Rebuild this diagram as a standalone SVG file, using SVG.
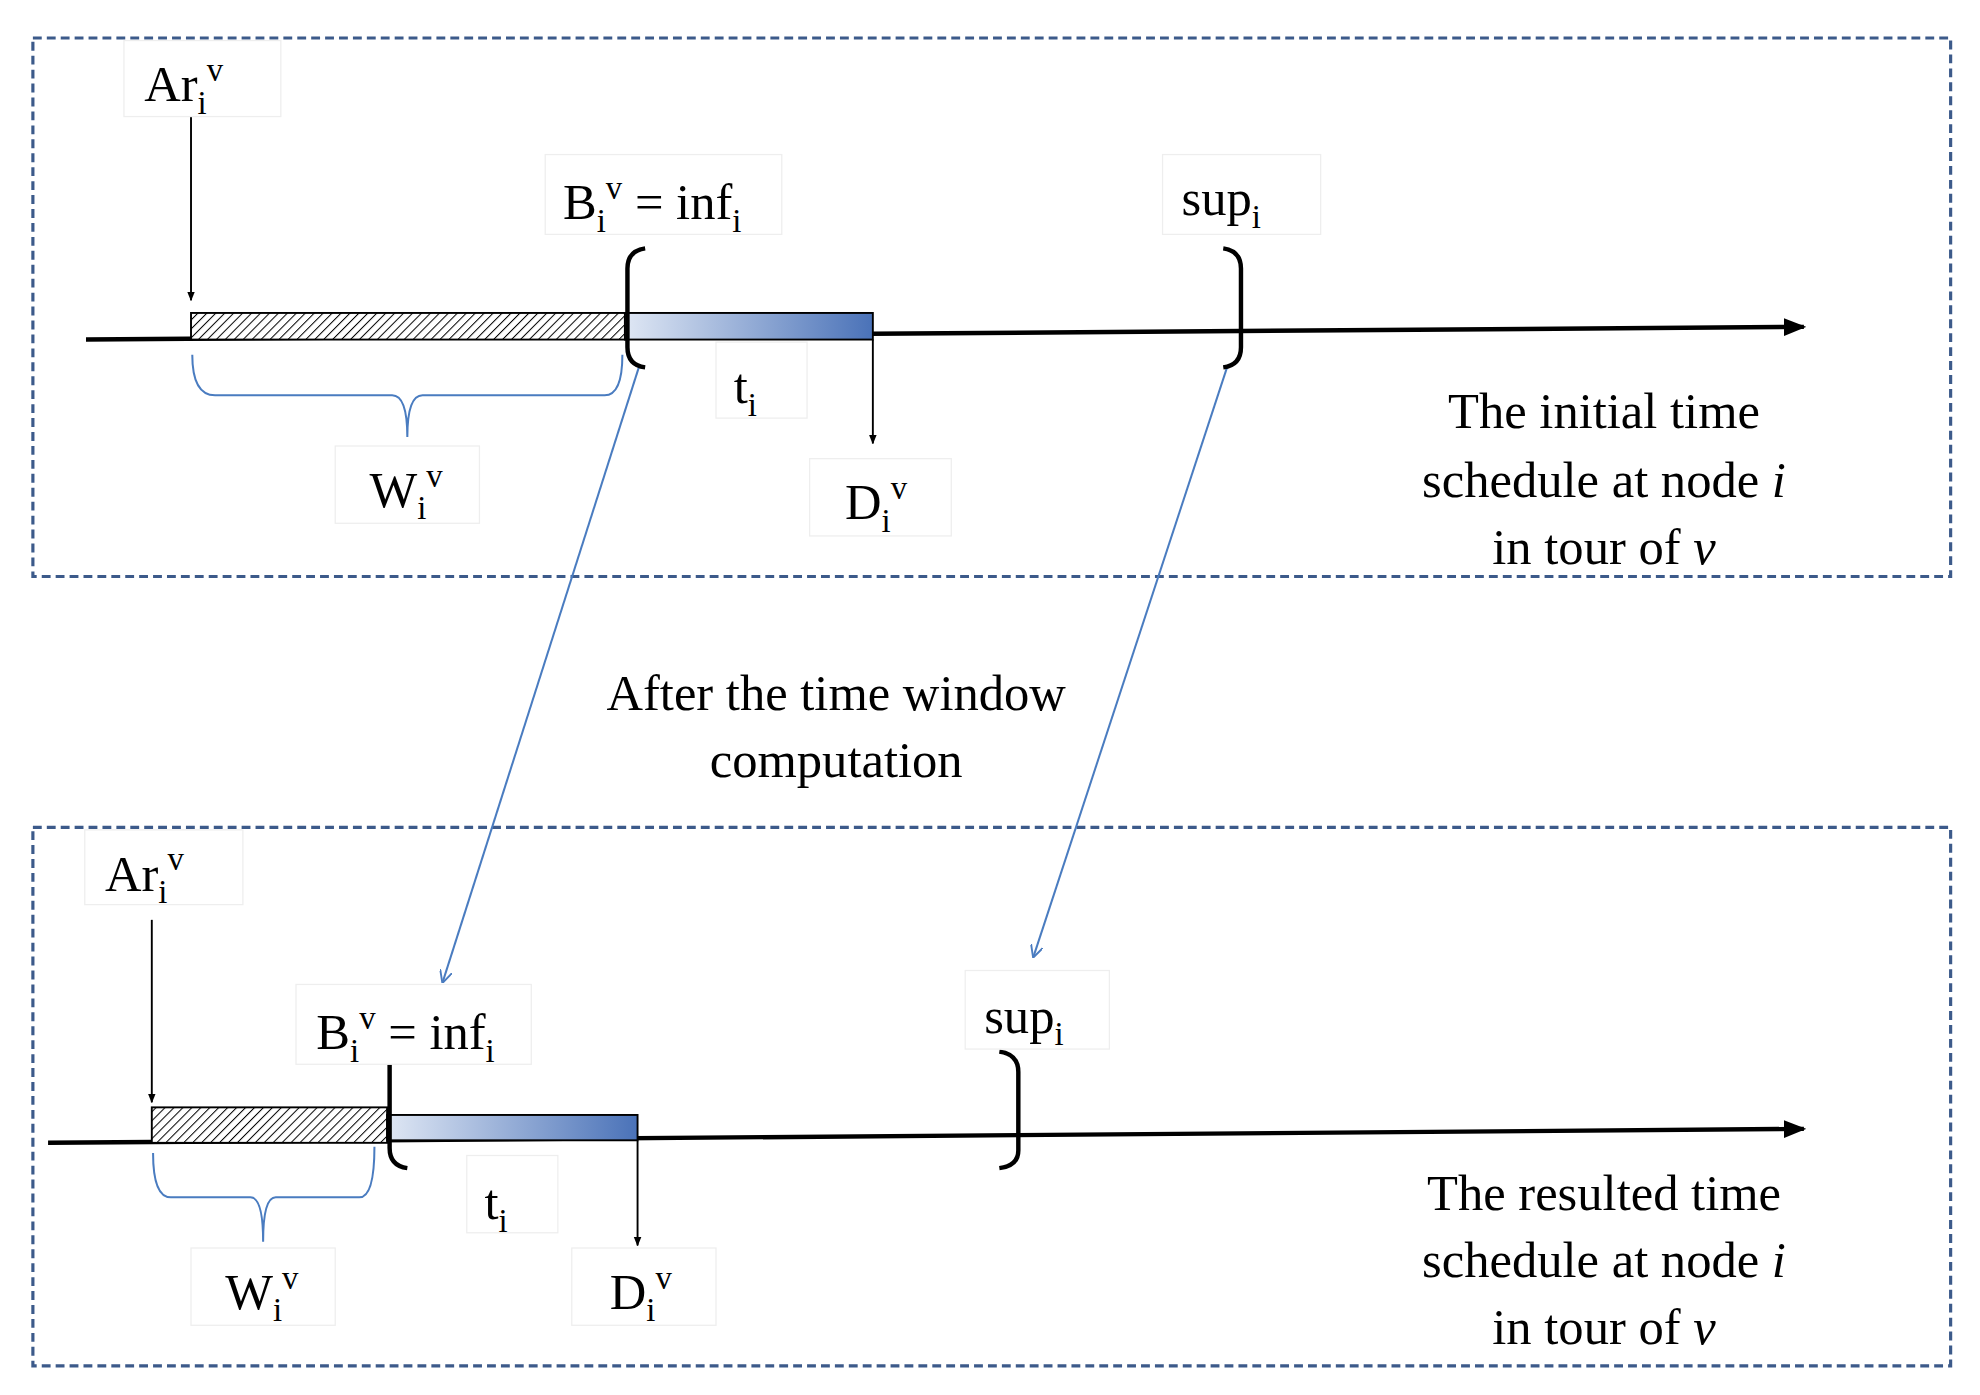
<svg xmlns="http://www.w3.org/2000/svg" width="1980" height="1395" viewBox="0 0 1980 1395">
<defs>
<pattern id="hatch" width="5" height="5" patternUnits="userSpaceOnUse" patternTransform="rotate(45)"><rect width="5" height="5" fill="#fff"/><line x1="0" y1="0" x2="0" y2="5" stroke="#000" stroke-width="1.6"/></pattern>
<linearGradient id="bg" x1="0" y1="0" x2="1" y2="0"><stop offset="0" stop-color="#dfe7f4"/><stop offset="1" stop-color="#4a72b8"/></linearGradient>
<marker id="ah" viewBox="0 0 10 10" refX="9" refY="5" markerWidth="5" markerHeight="5" orient="auto"><path d="M0,1 L10,5 L0,9 z" fill="#000"/></marker>
<marker id="bh" viewBox="0 0 10 10" refX="9" refY="5" markerWidth="10" markerHeight="10" orient="auto" markerUnits="userSpaceOnUse"><path d="M0,0 L10,5 L0,10" fill="none" stroke="#4a7cc0" stroke-width="1.5"/></marker>
<style>
.box{fill:none;stroke:#3c5a8a;stroke-width:2.5;stroke-dasharray:7,4}
.lb{fill:#fff;stroke:#eee;stroke-width:1}
text{font-family:"Liberation Serif","Times New Roman",serif;fill:#000}
.t{font-size:40px}
.s{font-size:26px}
.ax{stroke:#000;stroke-width:3.5;fill:none}
.br{stroke:#000;stroke-width:3.5;fill:none}
.bl{stroke:#4a7cc0;stroke-width:1.6;fill:none}
.th{stroke:#000;stroke-width:1.5;fill:none}
</style>
</defs>
<g transform="scale(1.265,1.267)">
<g id="frames">
<rect class="box" x="26" y="30" width="1516" height="425"/>
<rect class="box" x="26" y="653" width="1516" height="425"/>
</g>
<g id="connectors">
<line class="ax" x1="68" y1="268" x2="1426" y2="258" marker-end="url(#ah)"/>
<line class="ax" x1="38" y1="902" x2="1426" y2="891" marker-end="url(#ah)"/>
<line class="th" x1="151" y1="92" x2="151" y2="237" marker-end="url(#ah)"/>
<line class="th" x1="690" y1="268" x2="690" y2="350" marker-end="url(#ah)"/>
<line class="th" x1="120" y1="726" x2="120" y2="870" marker-end="url(#ah)"/>
<line class="th" x1="504" y1="900" x2="504" y2="983" marker-end="url(#ah)"/>
<line class="bl" x1="505" y1="290" x2="350" y2="775" marker-end="url(#bh)"/>
<line class="bl" x1="970" y1="290" x2="817" y2="755" marker-end="url(#bh)"/>
</g>
<g id="top">
<rect x="151" y="247" width="343" height="21" fill="url(#hatch)" stroke="#000" stroke-width="1.5"/>
<rect x="494" y="247" width="196" height="21" fill="url(#bg)" stroke="#000" stroke-width="1.5"/>
<path class="br" d="M510,196 Q496,198 496,212 L496,274 Q496,288 510,290"/>
<path class="br" d="M967,196 Q981,198 981,212 L981,274 Q981,288 967,290"/>
<path class="bl" d="M152,280 Q152,312 170,312 L310,312 Q322,312 322,345 M322,345 Q322,312 334,312 L478,312 Q492,312 492,280"/>
<rect class="lb" x="98" y="32" width="124" height="60"/>
<text class="t" x="114" y="80">Ar<tspan class="s" dy="10">i</tspan><tspan class="s" dy="-26">v</tspan></text>
<rect class="lb" x="431" y="122" width="187" height="63"/>
<text class="t" x="445" y="173">B<tspan class="s" dy="10">i</tspan><tspan class="s" dy="-26">v</tspan><tspan dy="16"> = inf</tspan><tspan class="s" dy="10">i</tspan></text>
<rect class="lb" x="919" y="122" width="125" height="63"/>
<text class="t" x="934" y="170">sup<tspan class="s" dy="10">i</tspan></text>
<rect class="lb" x="566" y="270" width="72" height="60"/>
<text class="t" x="580" y="318">t<tspan class="s" dy="10">i</tspan></text>
<rect class="lb" x="640" y="362" width="112" height="61"/>
<text class="t" x="668" y="410">D<tspan class="s" dy="10">i</tspan><tspan class="s" dy="-26">v</tspan></text>
<rect class="lb" x="265" y="352" width="114" height="61"/>
<text class="t" x="292" y="400">W<tspan class="s" dy="10">i</tspan><tspan class="s" dy="-26">v</tspan></text>
<text class="t" text-anchor="middle" x="1268" y="338">The initial  time</text>
<text class="t" text-anchor="middle" x="1268" y="392">schedule at node <tspan font-style="italic">i</tspan></text>
<text class="t" text-anchor="middle" x="1268" y="445">in tour of <tspan font-style="italic">v</tspan></text>
</g>
<g id="middle">
<text class="t" text-anchor="middle" x="661" y="560">After  the time window</text>
<text class="t" text-anchor="middle" x="661" y="613">computation</text>
</g>
<g id="bottom">
<rect x="120" y="874" width="186" height="28" fill="url(#hatch)" stroke="#000" stroke-width="1.5"/>
<rect x="306" y="880" width="198" height="20" fill="url(#bg)" stroke="#000" stroke-width="1.5"/>
<path class="br" d="M322,922 Q308,920 308,906 L308,840"/>
<path class="br" d="M790,830 Q805,832 805,846 L805,908 Q805,920 790,922"/>
<path class="bl" d="M121,910 Q121,945 135,945 L198,945 Q208,945 208,980 M208,980 Q208,945 218,945 L284,945 Q296,945 296,905"/>
<rect class="lb" x="67" y="655" width="125" height="59"/>
<text class="t" x="83" y="703">Ar<tspan class="s" dy="10">i</tspan><tspan class="s" dy="-26">v</tspan></text>
<rect class="lb" x="234" y="777" width="186" height="63"/>
<text class="t" x="250" y="828">B<tspan class="s" dy="10">i</tspan><tspan class="s" dy="-26">v</tspan><tspan dy="16"> = inf</tspan><tspan class="s" dy="10">i</tspan></text>
<rect class="lb" x="763" y="766" width="114" height="62"/>
<text class="t" x="778" y="815">sup<tspan class="s" dy="10">i</tspan></text>
<rect class="lb" x="369" y="912" width="72" height="61"/>
<text class="t" x="383" y="962">t<tspan class="s" dy="10">i</tspan></text>
<rect class="lb" x="452" y="985" width="114" height="61"/>
<text class="t" x="482" y="1033">D<tspan class="s" dy="10">i</tspan><tspan class="s" dy="-26">v</tspan></text>
<rect class="lb" x="151" y="985" width="114" height="61"/>
<text class="t" x="178" y="1033">W<tspan class="s" dy="10">i</tspan><tspan class="s" dy="-26">v</tspan></text>
<text class="t" text-anchor="middle" x="1268" y="955">The resulted time</text>
<text class="t" text-anchor="middle" x="1268" y="1008">schedule at node <tspan font-style="italic">i</tspan></text>
<text class="t" text-anchor="middle" x="1268" y="1061">in tour of <tspan font-style="italic">v</tspan></text>
</g>
</g>
</svg>
